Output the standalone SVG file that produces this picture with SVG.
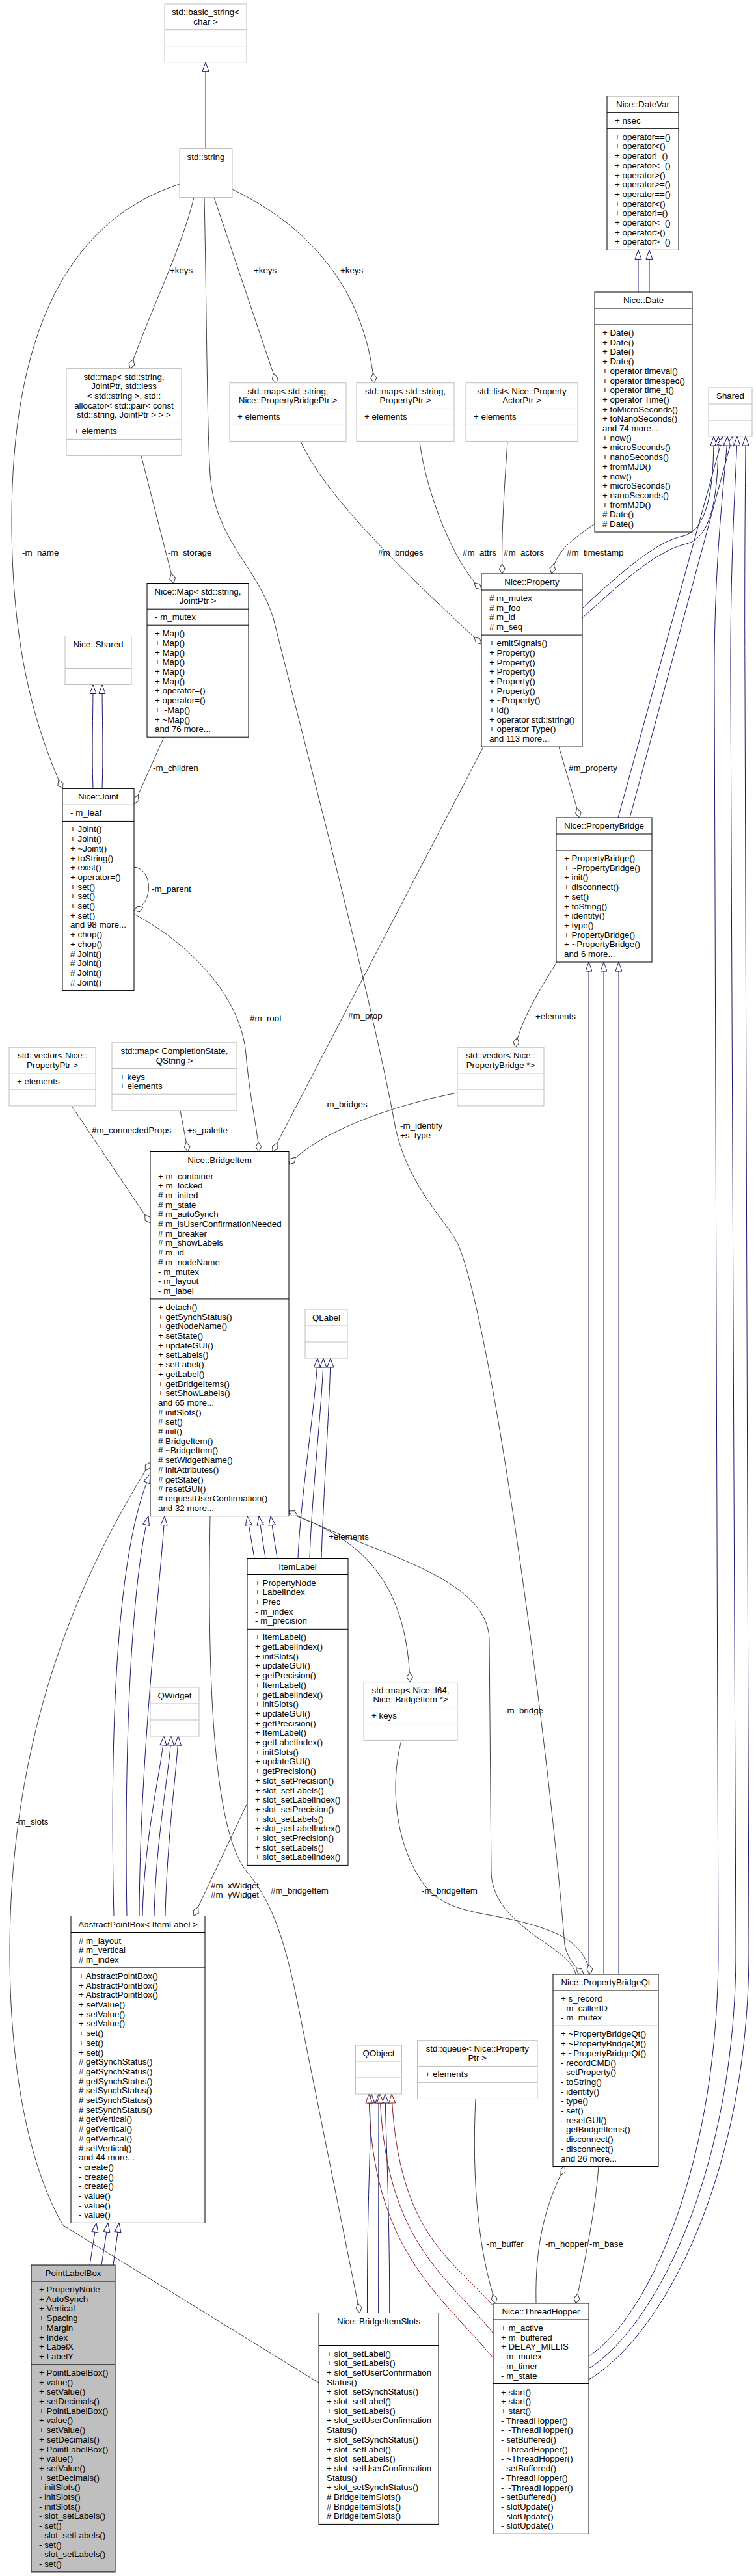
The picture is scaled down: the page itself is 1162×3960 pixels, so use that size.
<svg xmlns="http://www.w3.org/2000/svg" width="1162" height="3960" viewBox="0 0 1162 3960">
<style>
text{font-family:"Liberation Sans",Arial,Helvetica,sans-serif;font-size:13.33px;fill:#000}
.c{text-anchor:middle}
.bd{fill:#fff;stroke:#000;stroke-width:1}
.bu{fill:#fff;stroke:#bfbfbf;stroke-width:1}
.bg{fill:#bfbfbf;stroke:#000;stroke-width:1}
.ld{stroke:#000;stroke-width:1}
.lu{stroke:#bfbfbf;stroke-width:1}
.e{fill:none;stroke-width:1}
.inh{stroke:#191970;marker-end:url(#ib)}
.prv{stroke:#8b1a1a;marker-end:url(#ir)}
.use{stroke:#404040;marker-end:url(#dm)}
</style>
<defs>
<marker id="ib" markerWidth="16" markerHeight="12" refX="15" refY="6" orient="auto" markerUnits="userSpaceOnUse"><path d="M1,1 L15,6 L1,11 Z" fill="#fff" stroke="#191970"/></marker>
<marker id="ir" markerWidth="16" markerHeight="12" refX="15" refY="6" orient="auto" markerUnits="userSpaceOnUse"><path d="M1,1 L15,6 L1,11 Z" fill="#fff" stroke="#8b1a1a"/></marker>
<marker id="dm" markerWidth="17" markerHeight="12" refX="16" refY="6" orient="auto" markerUnits="userSpaceOnUse"><path d="M1,6 L8.5,1.5 L16,6 L8.5,10.5 Z" fill="#fff" stroke="#404040"/></marker>
</defs>
<rect width="1162" height="3960" fill="#fff"/>

<g id="edges">
<path class="e inh" d="M316,228.5 L316,95.7"/>
<path class="e inh" d="M981,449 L981,384.4"/>
<path class="e inh" d="M998,449 L998,384.4"/>
<path class="e inh" d="M143,1212.4 C141,1150 143,1100 143,1052.5"/>
<path class="e inh" d="M157,1212.4 C159,1150 157,1100 157,1052.5"/>
<path class="e inh" d="M895,935 C960,875 1010,832 1050,824 C1085,815 1097,760 1097,671"/>
<path class="e inh" d="M895,950 C965,885 1015,845 1055,836 C1095,826 1104,760 1104,671"/>
<path class="e inh" d="M950,1257 L1111,671"/>
<path class="e inh" d="M968,1257 L1126,671"/>
<path class="e inh" d="M905,3622 C1000,3560 1104,3320 1104,3000 L1098,1050 C1097,850 1116,720 1118,671"/>
<path class="e inh" d="M905,3641 C1010,3575 1131,3330 1131,3000 L1123,1050 C1122,850 1132,720 1133,671"/>
<path class="e inh" d="M905,3658 C1020,3590 1151,3340 1151,3000 L1145,1050 C1144,850 1146,720 1146,671"/>
<path class="e inh" d="M905,3035 L905,1479"/>
<path class="e inh" d="M928,3035 L928,1479"/>
<path class="e inh" d="M951,3035 L951,1479"/>
<path class="e inh" d="M391,2395.5 L380,2330.6"/>
<path class="e inh" d="M408,2395.5 L398,2330.6"/>
<path class="e inh" d="M426,2395.5 L416,2330.6"/>
<path class="e inh" d="M458,2395.5 C462,2300 486,2150 488,2088"/>
<path class="e inh" d="M476,2395.5 C479,2300 496,2150 497,2088"/>
<path class="e inh" d="M494,2395.5 C497,2300 507,2150 508,2088"/>
<path class="e inh" d="M175,2945.5 C168,2650 180,2380 231,2266"/>
<path class="e inh" d="M195,2945.5 C190,2650 205,2420 228,2330.6"/>
<path class="e inh" d="M214,2945.5 C215,2700 245,2450 253,2330.6"/>
<path class="e inh" d="M219,2945.5 C222,2820 248,2720 252,2669"/>
<path class="e inh" d="M237,2945.5 C240,2820 261,2720 263,2669"/>
<path class="e inh" d="M254,2945.5 C257,2820 272,2720 274,2669"/>
<path class="e inh" d="M138,3482 L148,3417.4"/>
<path class="e inh" d="M156,3482 L166,3417.4"/>
<path class="e inh" d="M174,3482 L183,3417.4"/>
<path class="e inh" d="M564.5,3555.5 C564,3400 570,3280 571,3219"/>
<path class="e inh" d="M581.6,3555.5 L582,3219"/>
<path class="e inh" d="M598.7,3555.5 C599,3400 593,3280 592,3219"/>
<path class="e prv" d="M758,3545 C700,3475 612,3440 602,3219"/>
<path class="e prv" d="M758,3587 C690,3500 592,3450 584,3219"/>
<path class="e prv" d="M758,3625 C680,3530 570,3460 567,3219"/>
<path class="e use" d="M298,303.5 C280,380 230,480 200,566.6"/>
<path class="e use" d="M276,283 C100,340 18,520 18,800 C18,1000 55,1120 96,1212.4"/>
<path class="e use" d="M314,303.5 C318,500 318,650 323,730 C330,830 395,870 420,950 C470,1150 575,1550 608,1735 C630,1830 690,1880 705,1915 C760,2050 845,2700 868,2990 C872,3010 885,3025 897,3035"/>
<path class="e use" d="M329,303.5 L425,588.7"/>
<path class="e use" d="M357,291 C470,345 560,440 575,588.7"/>
<path class="e use" d="M462,678.4 C500,760 600,860 740,990"/>
<path class="e use" d="M645,678.4 C655,760 700,870 740,906"/>
<path class="e use" d="M780,678.4 C776,740 770,820 772,882"/>
<path class="e use" d="M914,805 C880,830 855,845 848,882"/>
<path class="e use" d="M217,700.4 L267,896.5"/>
<path class="e use" d="M252,1133.2 L206,1236"/>
<path class="e use" d="M206,1333 C234,1335 238,1388 206,1400"/>
<path class="e use" d="M859,1148 L891,1257"/>
<path class="e use" d="M856,1479 C830,1520 800,1570 792,1610"/>
<path class="e use" d="M110,1699.9 L231,1880"/>
<path class="e use" d="M277,1707.2 L289,1770.5"/>
<path class="e use" d="M206,1405 C290,1450 370,1530 378,1620 C384,1690 395,1730 398,1770.5"/>
<path class="e use" d="M743,1148 L419,1770.5"/>
<path class="e use" d="M703,1680 C600,1700 490,1740 444,1790"/>
<path class="e use" d="M444,2326 C520,2355 625,2400 630,2585.7"/>
<path class="e use" d="M885,3035 C875,2990 760,2965 755,2880 L752,2520 C750,2420 560,2385 444,2323"/>
<path class="e use" d="M617,2675.4 C600,2740 605,2830 650,2895 C690,2950 760,2935 845,2968 C880,2982 900,3000 908,3035"/>
<path class="e use" d="M323,2330.6 C318,2600 330,2820 380,2878 C420,2925 440,2990 460,3092 L553,3555.5"/>
<path class="e use" d="M490,3663 L97,3421 C50,3340 15,3200 15,3000 C15,2600 170,2350 231,2248"/>
<path class="e use" d="M380,2772 L298,2945.5"/>
<path class="e use" d="M731,3226.4 C725,3350 735,3460 762,3541"/>
<path class="e use" d="M824,3541 C822,3450 838,3390 868,3330.5"/>
<path class="e use" d="M920,3330.5 C915,3400 900,3470 885,3541"/>
<text x="261" y="419.5">+keys</text>
<text x="390" y="419.5">+keys</text>
<text x="523" y="419.5">+keys</text>
<text x="34" y="853.5">-m_name</text>
<text x="258" y="853.5">-m_storage</text>
<text x="581" y="853.5">#m_bridges</text>
<text x="711" y="853.5">#m_attrs</text>
<text x="774" y="853.5">#m_actors</text>
<text x="871" y="853.5">#m_timestamp</text>
<text x="235" y="1184.5">-m_children</text>
<text x="874" y="1184.5">#m_property</text>
<text x="233" y="1370.5">-m_parent</text>
<text x="823" y="1566.5">+elements</text>
<text x="384" y="1570">#m_root</text>
<text x="535" y="1566">#m_prop</text>
<text x="615" y="1735">-m_identify</text>
<text x="615" y="1750">+s_type</text>
<text x="498" y="1702">-m_bridges</text>
<text x="141" y="1741.5">#m_connectedProps</text>
<text x="288" y="1741.5">+s_palette</text>
<text x="505" y="2367">+elements</text>
<text x="775" y="2634">-m_bridge</text>
<text x="24" y="2805">-m_slots</text>
<text x="324" y="2902.5">#m_xWidget</text>
<text x="324" y="2917">#m_yWidget</text>
<text x="416" y="2910.5">#m_bridgeItem</text>
<text x="648" y="2910.5">-m_bridgeItem</text>
<text x="748" y="3453.5">-m_buffer</text>
<text x="838" y="3453.5">-m_hopper</text>
<text x="906" y="3453.5">-m_base</text>
</g>

<g id="n-basic-string">
<rect class="bu" x="253" y="6" width="126" height="89.7"/>
<line class="lu" x1="253" y1="45.7" x2="379" y2="45.7"/><line class="lu" x1="253" y1="70.7" x2="379" y2="70.7"/>
<text class="c" x="316" y="23">std::basic_string&lt;<tspan x="316" dy="14.7">char &gt;</tspan></text>
</g>
<g id="n-std-string">
<rect class="bu" x="276" y="228.5" width="81" height="75"/>
<line class="lu" x1="276" y1="253.5" x2="357" y2="253.5"/><line class="lu" x1="276" y1="278.5" x2="357" y2="278.5"/>
<text class="c" x="316.5" y="245.5">std::string</text>
</g>
<g id="n-datevar">
<rect class="bd" x="933" y="147.7" width="110" height="236.7"/>
<line class="ld" x1="933" y1="172.7" x2="1043" y2="172.7"/><line class="ld" x1="933" y1="197.7" x2="1043" y2="197.7"/>
<text class="c" x="988" y="164.7">Nice::DateVar</text>
<text x="945" y="189.7">+ nsec</text>
<text x="945" y="214.7">+ operator==()<tspan x="945" dy="14.7">+ operator&lt;()</tspan><tspan x="945" dy="14.7">+ operator!=()</tspan><tspan x="945" dy="14.7">+ operator&lt;=()</tspan><tspan x="945" dy="14.7">+ operator&gt;()</tspan><tspan x="945" dy="14.7">+ operator&gt;=()</tspan><tspan x="945" dy="14.7">+ operator==()</tspan><tspan x="945" dy="14.7">+ operator&lt;()</tspan><tspan x="945" dy="14.7">+ operator!=()</tspan><tspan x="945" dy="14.7">+ operator&lt;=()</tspan><tspan x="945" dy="14.7">+ operator&gt;()</tspan><tspan x="945" dy="14.7">+ operator&gt;=()</tspan></text>
</g>
<g id="n-date">
<rect class="bd" x="914" y="449" width="150" height="369"/>
<line class="ld" x1="914" y1="474" x2="1064" y2="474"/><line class="ld" x1="914" y1="499" x2="1064" y2="499"/>
<text class="c" x="989" y="466">Nice::Date</text>
<text x="926" y="516">+ Date()<tspan x="926" dy="14.7">+ Date()</tspan><tspan x="926" dy="14.7">+ Date()</tspan><tspan x="926" dy="14.7">+ Date()</tspan><tspan x="926" dy="14.7">+ operator timeval()</tspan><tspan x="926" dy="14.7">+ operator timespec()</tspan><tspan x="926" dy="14.7">+ operator time_t()</tspan><tspan x="926" dy="14.7">+ operator Time()</tspan><tspan x="926" dy="14.7">+ toMicroSeconds()</tspan><tspan x="926" dy="14.7">+ toNanoSeconds()</tspan><tspan x="926" dy="14.7">and 74 more...</tspan><tspan x="926" dy="14.7">+ now()</tspan><tspan x="926" dy="14.7">+ microSeconds()</tspan><tspan x="926" dy="14.7">+ nanoSeconds()</tspan><tspan x="926" dy="14.7">+ fromMJD()</tspan><tspan x="926" dy="14.7">+ now()</tspan><tspan x="926" dy="14.7">+ microSeconds()</tspan><tspan x="926" dy="14.7">+ nanoSeconds()</tspan><tspan x="926" dy="14.7">+ fromMJD()</tspan><tspan x="926" dy="14.7"># Date()</tspan><tspan x="926" dy="14.7"># Date()</tspan></text>
</g>
<g id="n-shared">
<rect class="bu" x="1089" y="596" width="67" height="75"/>
<line class="lu" x1="1089" y1="621" x2="1156" y2="621"/><line class="lu" x1="1089" y1="646" x2="1156" y2="646"/>
<text class="c" x="1122.5" y="613">Shared</text>
</g>
<g id="n-map-joint">
<rect class="bu" x="102" y="566.6" width="177" height="133.8"/>
<line class="lu" x1="102" y1="650.4" x2="279" y2="650.4"/><line class="lu" x1="102" y1="675.4" x2="279" y2="675.4"/>
<text class="c" x="190.5" y="583.6">std::map&lt; std::string,<tspan x="190.5" dy="14.7">JointPtr, std::less</tspan><tspan x="190.5" dy="14.7">&lt; std::string &gt;, std::</tspan><tspan x="190.5" dy="14.7">allocator&lt; std::pair&lt; const</tspan><tspan x="190.5" dy="14.7">std::string, JointPtr &gt; &gt; &gt;</tspan></text>
<text x="114" y="667.4">+ elements</text>
</g>
<g id="n-map-pbptr">
<rect class="bu" x="353" y="588.7" width="179" height="89.7"/>
<line class="lu" x1="353" y1="628.4" x2="532" y2="628.4"/><line class="lu" x1="353" y1="653.4" x2="532" y2="653.4"/>
<text class="c" x="442.5" y="605.7">std::map&lt; std::string,<tspan x="442.5" dy="14.7">Nice::PropertyBridgePtr &gt;</tspan></text>
<text x="365" y="645.4">+ elements</text>
</g>
<g id="n-map-propptr">
<rect class="bu" x="548" y="588.7" width="150" height="89.7"/>
<line class="lu" x1="548" y1="628.4" x2="698" y2="628.4"/><line class="lu" x1="548" y1="653.4" x2="698" y2="653.4"/>
<text class="c" x="623" y="605.7">std::map&lt; std::string,<tspan x="623" dy="14.7">PropertyPtr &gt;</tspan></text>
<text x="560" y="645.4">+ elements</text>
</g>
<g id="n-list-actor">
<rect class="bu" x="716" y="588.7" width="172" height="89.7"/>
<line class="lu" x1="716" y1="628.4" x2="888" y2="628.4"/><line class="lu" x1="716" y1="653.4" x2="888" y2="653.4"/>
<text class="c" x="802" y="605.7">std::list&lt; Nice::Property<tspan x="802" dy="14.7">ActorPtr &gt;</tspan></text>
<text x="728" y="645.4">+ elements</text>
</g>
<g id="n-nice-map">
<rect class="bd" x="226" y="896.5" width="156" height="236.7"/>
<line class="ld" x1="226" y1="936.2" x2="382" y2="936.2"/><line class="ld" x1="226" y1="961.2" x2="382" y2="961.2"/>
<text class="c" x="304" y="913.5">Nice::Map&lt; std::string,<tspan x="304" dy="14.7">JointPtr &gt;</tspan></text>
<text x="238" y="953.2">- m_mutex</text>
<text x="238" y="978.2">+ Map()<tspan x="238" dy="14.7">+ Map()</tspan><tspan x="238" dy="14.7">+ Map()</tspan><tspan x="238" dy="14.7">+ Map()</tspan><tspan x="238" dy="14.7">+ Map()</tspan><tspan x="238" dy="14.7">+ Map()</tspan><tspan x="238" dy="14.7">+ operator=()</tspan><tspan x="238" dy="14.7">+ operator=()</tspan><tspan x="238" dy="14.7">+ ~Map()</tspan><tspan x="238" dy="14.7">+ ~Map()</tspan><tspan x="238" dy="14.7">and 76 more...</tspan></text>
</g>
<g id="n-nice-shared">
<rect class="bu" x="100" y="977.5" width="102" height="75"/>
<line class="lu" x1="100" y1="1002.5" x2="202" y2="1002.5"/><line class="lu" x1="100" y1="1027.5" x2="202" y2="1027.5"/>
<text class="c" x="151" y="994.5">Nice::Shared</text>
</g>
<g id="n-property">
<rect class="bd" x="740" y="882" width="155" height="266.1"/>
<line class="ld" x1="740" y1="907" x2="895" y2="907"/><line class="ld" x1="740" y1="976.1" x2="895" y2="976.1"/>
<text class="c" x="817.5" y="899">Nice::Property</text>
<text x="752" y="924"># m_mutex<tspan x="752" dy="14.7"># m_foo</tspan><tspan x="752" dy="14.7"># m_id</tspan><tspan x="752" dy="14.7"># m_seq</tspan></text>
<text x="752" y="993.1">+ emitSignals()<tspan x="752" dy="14.7">+ Property()</tspan><tspan x="752" dy="14.7">+ Property()</tspan><tspan x="752" dy="14.7">+ Property()</tspan><tspan x="752" dy="14.7">+ Property()</tspan><tspan x="752" dy="14.7">+ Property()</tspan><tspan x="752" dy="14.7">+ ~Property()</tspan><tspan x="752" dy="14.7">+ id()</tspan><tspan x="752" dy="14.7">+ operator std::string()</tspan><tspan x="752" dy="14.7">+ operator Type()</tspan><tspan x="752" dy="14.7">and 113 more...</tspan></text>
</g>
<g id="n-joint">
<rect class="bd" x="96" y="1212.4" width="110" height="310.2"/>
<line class="ld" x1="96" y1="1237.4" x2="206" y2="1237.4"/><line class="ld" x1="96" y1="1262.4" x2="206" y2="1262.4"/>
<text class="c" x="151" y="1229.4">Nice::Joint</text>
<text x="108" y="1254.4">- m_leaf</text>
<text x="108" y="1279.4">+ Joint()<tspan x="108" dy="14.7">+ Joint()</tspan><tspan x="108" dy="14.7">+ ~Joint()</tspan><tspan x="108" dy="14.7">+ toString()</tspan><tspan x="108" dy="14.7">+ exist()</tspan><tspan x="108" dy="14.7">+ operator=()</tspan><tspan x="108" dy="14.7">+ set()</tspan><tspan x="108" dy="14.7">+ set()</tspan><tspan x="108" dy="14.7">+ set()</tspan><tspan x="108" dy="14.7">+ set()</tspan><tspan x="108" dy="14.7">and 98 more...</tspan><tspan x="108" dy="14.7">+ chop()</tspan><tspan x="108" dy="14.7">+ chop()</tspan><tspan x="108" dy="14.7"># Joint()</tspan><tspan x="108" dy="14.7"># Joint()</tspan><tspan x="108" dy="14.7"># Joint()</tspan><tspan x="108" dy="14.7"># Joint()</tspan></text>
</g>
<g id="n-propertybridge">
<rect class="bd" x="855" y="1257" width="147" height="222"/>
<line class="ld" x1="855" y1="1282" x2="1002" y2="1282"/><line class="ld" x1="855" y1="1307" x2="1002" y2="1307"/>
<text class="c" x="928.5" y="1274">Nice::PropertyBridge</text>
<text x="867" y="1324">+ PropertyBridge()<tspan x="867" dy="14.7">+ ~PropertyBridge()</tspan><tspan x="867" dy="14.7">+ init()</tspan><tspan x="867" dy="14.7">+ disconnect()</tspan><tspan x="867" dy="14.7">+ set()</tspan><tspan x="867" dy="14.7">+ toString()</tspan><tspan x="867" dy="14.7">+ identity()</tspan><tspan x="867" dy="14.7">+ type()</tspan><tspan x="867" dy="14.7">+ PropertyBridge()</tspan><tspan x="867" dy="14.7">+ ~PropertyBridge()</tspan><tspan x="867" dy="14.7">and 6 more...</tspan></text>
</g>
<g id="n-vector-propptr">
<rect class="bu" x="14" y="1610.2" width="133" height="89.7"/>
<line class="lu" x1="14" y1="1649.9" x2="147" y2="1649.9"/><line class="lu" x1="14" y1="1674.9" x2="147" y2="1674.9"/>
<text class="c" x="80.5" y="1627.2">std::vector&lt; Nice::<tspan x="80.5" dy="14.7">PropertyPtr &gt;</tspan></text>
<text x="26" y="1666.9">+ elements</text>
</g>
<g id="n-map-completion">
<rect class="bu" x="172" y="1602.8" width="192" height="104.4"/>
<line class="lu" x1="172" y1="1642.5" x2="364" y2="1642.5"/><line class="lu" x1="172" y1="1682.2" x2="364" y2="1682.2"/>
<text class="c" x="268" y="1619.8">std::map&lt; CompletionState,<tspan x="268" dy="14.7">QString &gt;</tspan></text>
<text x="184" y="1659.5">+ keys<tspan x="184" dy="14.7">+ elements</tspan></text>
</g>
<g id="n-vector-pb">
<rect class="bu" x="703" y="1610.2" width="133" height="89.7"/>
<line class="lu" x1="703" y1="1649.9" x2="836" y2="1649.9"/><line class="lu" x1="703" y1="1674.9" x2="836" y2="1674.9"/>
<text class="c" x="769.5" y="1627.2">std::vector&lt; Nice::<tspan x="769.5" dy="14.7">PropertyBridge *&gt;</tspan></text>
</g>
<g id="n-bridgeitem">
<rect class="bd" x="231" y="1770.5" width="213" height="560.1"/>
<line class="ld" x1="231" y1="1795.5" x2="444" y2="1795.5"/><line class="ld" x1="231" y1="1996.9" x2="444" y2="1996.9"/>
<text class="c" x="337.5" y="1787.5">Nice::BridgeItem</text>
<text x="243" y="1812.5">+ m_container<tspan x="243" dy="14.7">+ m_locked</tspan><tspan x="243" dy="14.7"># m_inited</tspan><tspan x="243" dy="14.7"># m_state</tspan><tspan x="243" dy="14.7"># m_autoSynch</tspan><tspan x="243" dy="14.7"># m_isUserConfirmationNeeded</tspan><tspan x="243" dy="14.7"># m_breaker</tspan><tspan x="243" dy="14.7"># m_showLabels</tspan><tspan x="243" dy="14.7"># m_id</tspan><tspan x="243" dy="14.7"># m_nodeName</tspan><tspan x="243" dy="14.7">- m_mutex</tspan><tspan x="243" dy="14.7">- m_layout</tspan><tspan x="243" dy="14.7">- m_label</tspan></text>
<text x="243" y="2013.9">+ detach()<tspan x="243" dy="14.7">+ getSynchStatus()</tspan><tspan x="243" dy="14.7">+ getNodeName()</tspan><tspan x="243" dy="14.7">+ setState()</tspan><tspan x="243" dy="14.7">+ updateGUI()</tspan><tspan x="243" dy="14.7">+ setLabels()</tspan><tspan x="243" dy="14.7">+ setLabel()</tspan><tspan x="243" dy="14.7">+ getLabel()</tspan><tspan x="243" dy="14.7">+ getBridgeItems()</tspan><tspan x="243" dy="14.7">+ setShowLabels()</tspan><tspan x="243" dy="14.7">and 65 more...</tspan><tspan x="243" dy="14.7"># initSlots()</tspan><tspan x="243" dy="14.7"># set()</tspan><tspan x="243" dy="14.7"># init()</tspan><tspan x="243" dy="14.7"># BridgeItem()</tspan><tspan x="243" dy="14.7"># ~BridgeItem()</tspan><tspan x="243" dy="14.7"># setWidgetName()</tspan><tspan x="243" dy="14.7"># initAttributes()</tspan><tspan x="243" dy="14.7"># getState()</tspan><tspan x="243" dy="14.7"># resetGUI()</tspan><tspan x="243" dy="14.7"># requestUserConfirmation()</tspan><tspan x="243" dy="14.7">and 32 more...</tspan></text>
</g>
<g id="n-qlabel">
<rect class="bu" x="469" y="2013" width="65" height="75"/>
<line class="lu" x1="469" y1="2038" x2="534" y2="2038"/><line class="lu" x1="469" y1="2063" x2="534" y2="2063"/>
<text class="c" x="501.5" y="2030">QLabel</text>
</g>
<g id="n-itemlabel">
<rect class="bd" x="380" y="2395.5" width="155" height="471.9"/>
<line class="ld" x1="380" y1="2420.5" x2="535" y2="2420.5"/><line class="ld" x1="380" y1="2504.3" x2="535" y2="2504.3"/>
<text class="c" x="457.5" y="2412.5">ItemLabel</text>
<text x="392" y="2437.5">+ PropertyNode<tspan x="392" dy="14.7">+ LabelIndex</tspan><tspan x="392" dy="14.7">+ Prec</tspan><tspan x="392" dy="14.7">- m_index</tspan><tspan x="392" dy="14.7">- m_precision</tspan></text>
<text x="392" y="2521.3">+ ItemLabel()<tspan x="392" dy="14.7">+ getLabelIndex()</tspan><tspan x="392" dy="14.7">+ initSlots()</tspan><tspan x="392" dy="14.7">+ updateGUI()</tspan><tspan x="392" dy="14.7">+ getPrecision()</tspan><tspan x="392" dy="14.7">+ ItemLabel()</tspan><tspan x="392" dy="14.7">+ getLabelIndex()</tspan><tspan x="392" dy="14.7">+ initSlots()</tspan><tspan x="392" dy="14.7">+ updateGUI()</tspan><tspan x="392" dy="14.7">+ getPrecision()</tspan><tspan x="392" dy="14.7">+ ItemLabel()</tspan><tspan x="392" dy="14.7">+ getLabelIndex()</tspan><tspan x="392" dy="14.7">+ initSlots()</tspan><tspan x="392" dy="14.7">+ updateGUI()</tspan><tspan x="392" dy="14.7">+ getPrecision()</tspan><tspan x="392" dy="14.7">+ slot_setPrecision()</tspan><tspan x="392" dy="14.7">+ slot_setLabels()</tspan><tspan x="392" dy="14.7">+ slot_setLabelIndex()</tspan><tspan x="392" dy="14.7">+ slot_setPrecision()</tspan><tspan x="392" dy="14.7">+ slot_setLabels()</tspan><tspan x="392" dy="14.7">+ slot_setLabelIndex()</tspan><tspan x="392" dy="14.7">+ slot_setPrecision()</tspan><tspan x="392" dy="14.7">+ slot_setLabels()</tspan><tspan x="392" dy="14.7">+ slot_setLabelIndex()</tspan></text>
</g>
<g id="n-qwidget">
<rect class="bu" x="231" y="2594" width="75" height="75"/>
<line class="lu" x1="231" y1="2619" x2="306" y2="2619"/><line class="lu" x1="231" y1="2644" x2="306" y2="2644"/>
<text class="c" x="268.5" y="2611">QWidget</text>
</g>
<g id="n-map-i64">
<rect class="bu" x="559" y="2585.7" width="144" height="89.7"/>
<line class="lu" x1="559" y1="2625.4" x2="703" y2="2625.4"/><line class="lu" x1="559" y1="2650.4" x2="703" y2="2650.4"/>
<text class="c" x="631" y="2602.7">std::map&lt; Nice::I64,<tspan x="631" dy="14.7">Nice::BridgeItem *&gt;</tspan></text>
<text x="571" y="2642.4">+ keys</text>
</g>
<g id="n-abstractpointbox">
<rect class="bd" x="109" y="2945.5" width="206" height="471.9"/>
<line class="ld" x1="109" y1="2970.5" x2="315" y2="2970.5"/><line class="ld" x1="109" y1="3024.9" x2="315" y2="3024.9"/>
<text class="c" x="212" y="2962.5">AbstractPointBox&lt; ItemLabel &gt;</text>
<text x="121" y="2987.5"># m_layout<tspan x="121" dy="14.7"># m_vertical</tspan><tspan x="121" dy="14.7"># m_index</tspan></text>
<text x="121" y="3041.9">+ AbstractPointBox()<tspan x="121" dy="14.7">+ AbstractPointBox()</tspan><tspan x="121" dy="14.7">+ AbstractPointBox()</tspan><tspan x="121" dy="14.7">+ setValue()</tspan><tspan x="121" dy="14.7">+ setValue()</tspan><tspan x="121" dy="14.7">+ setValue()</tspan><tspan x="121" dy="14.7">+ set()</tspan><tspan x="121" dy="14.7">+ set()</tspan><tspan x="121" dy="14.7">+ set()</tspan><tspan x="121" dy="14.7"># getSynchStatus()</tspan><tspan x="121" dy="14.7"># getSynchStatus()</tspan><tspan x="121" dy="14.7"># getSynchStatus()</tspan><tspan x="121" dy="14.7"># setSynchStatus()</tspan><tspan x="121" dy="14.7"># setSynchStatus()</tspan><tspan x="121" dy="14.7"># setSynchStatus()</tspan><tspan x="121" dy="14.7"># getVertical()</tspan><tspan x="121" dy="14.7"># getVertical()</tspan><tspan x="121" dy="14.7"># getVertical()</tspan><tspan x="121" dy="14.7"># setVertical()</tspan><tspan x="121" dy="14.7">and 44 more...</tspan><tspan x="121" dy="14.7">- create()</tspan><tspan x="121" dy="14.7">- create()</tspan><tspan x="121" dy="14.7">- create()</tspan><tspan x="121" dy="14.7">- value()</tspan><tspan x="121" dy="14.7">- value()</tspan><tspan x="121" dy="14.7">- value()</tspan></text>
</g>
<g id="n-propertybridgeqt">
<rect class="bd" x="850" y="3035" width="162" height="295.5"/>
<line class="ld" x1="850" y1="3060" x2="1012" y2="3060"/><line class="ld" x1="850" y1="3114.4" x2="1012" y2="3114.4"/>
<text class="c" x="931" y="3052">Nice::PropertyBridgeQt</text>
<text x="862" y="3077">+ s_record<tspan x="862" dy="14.7">- m_callerID</tspan><tspan x="862" dy="14.7">- m_mutex</tspan></text>
<text x="862" y="3131.4">+ ~PropertyBridgeQt()<tspan x="862" dy="14.7">+ ~PropertyBridgeQt()</tspan><tspan x="862" dy="14.7">+ ~PropertyBridgeQt()</tspan><tspan x="862" dy="14.7">- recordCMD()</tspan><tspan x="862" dy="14.7">- setProperty()</tspan><tspan x="862" dy="14.7">- toString()</tspan><tspan x="862" dy="14.7">- identity()</tspan><tspan x="862" dy="14.7">- type()</tspan><tspan x="862" dy="14.7">- set()</tspan><tspan x="862" dy="14.7">- resetGUI()</tspan><tspan x="862" dy="14.7">- getBridgeItems()</tspan><tspan x="862" dy="14.7">- disconnect()</tspan><tspan x="862" dy="14.7">- disconnect()</tspan><tspan x="862" dy="14.7">and 26 more...</tspan></text>
</g>
<g id="n-qobject">
<rect class="bu" x="546.5" y="3144" width="71" height="75"/>
<line class="lu" x1="546.5" y1="3169" x2="617.5" y2="3169"/><line class="lu" x1="546.5" y1="3194" x2="617.5" y2="3194"/>
<text class="c" x="582" y="3161">QObject</text>
</g>
<g id="n-queue">
<rect class="bu" x="641.5" y="3136.7" width="184.5" height="89.7"/>
<line class="lu" x1="641.5" y1="3176.4" x2="826" y2="3176.4"/><line class="lu" x1="641.5" y1="3201.4" x2="826" y2="3201.4"/>
<text class="c" x="733.75" y="3153.7">std::queue&lt; Nice::Property<tspan x="733.75" dy="14.7">Ptr &gt;</tspan></text>
<text x="653.5" y="3193.4">+ elements</text>
</g>
<g id="n-pointlabelbox">
<rect class="bg" x="48" y="3482" width="129" height="471.9"/>
<line class="ld" x1="48" y1="3507" x2="177" y2="3507"/><line class="ld" x1="48" y1="3634.9" x2="177" y2="3634.9"/>
<text class="c" x="112.5" y="3499">PointLabelBox</text>
<text x="60" y="3524">+ PropertyNode<tspan x="60" dy="14.7">+ AutoSynch</tspan><tspan x="60" dy="14.7">+ Vertical</tspan><tspan x="60" dy="14.7">+ Spacing</tspan><tspan x="60" dy="14.7">+ Margin</tspan><tspan x="60" dy="14.7">+ Index</tspan><tspan x="60" dy="14.7">+ LabelX</tspan><tspan x="60" dy="14.7">+ LabelY</tspan></text>
<text x="60" y="3651.9">+ PointLabelBox()<tspan x="60" dy="14.7">+ value()</tspan><tspan x="60" dy="14.7">+ setValue()</tspan><tspan x="60" dy="14.7">+ setDecimals()</tspan><tspan x="60" dy="14.7">+ PointLabelBox()</tspan><tspan x="60" dy="14.7">+ value()</tspan><tspan x="60" dy="14.7">+ setValue()</tspan><tspan x="60" dy="14.7">+ setDecimals()</tspan><tspan x="60" dy="14.7">+ PointLabelBox()</tspan><tspan x="60" dy="14.7">+ value()</tspan><tspan x="60" dy="14.7">+ setValue()</tspan><tspan x="60" dy="14.7">+ setDecimals()</tspan><tspan x="60" dy="14.7">- initSlots()</tspan><tspan x="60" dy="14.7">- initSlots()</tspan><tspan x="60" dy="14.7">- initSlots()</tspan><tspan x="60" dy="14.7">- slot_setLabels()</tspan><tspan x="60" dy="14.7">- set()</tspan><tspan x="60" dy="14.7">- slot_setLabels()</tspan><tspan x="60" dy="14.7">- set()</tspan><tspan x="60" dy="14.7">- slot_setLabels()</tspan><tspan x="60" dy="14.7">- set()</tspan></text>
</g>
<g id="n-bridgeitemslots">
<rect class="bd" x="490" y="3555.5" width="184" height="324.9"/>
<line class="ld" x1="490" y1="3580.5" x2="674" y2="3580.5"/><line class="ld" x1="490" y1="3605.5" x2="674" y2="3605.5"/>
<text class="c" x="582" y="3572.5">Nice::BridgeItemSlots</text>
<text x="502" y="3622.5">+ slot_setLabel()<tspan x="502" dy="14.7">+ slot_setLabels()</tspan><tspan x="502" dy="14.7">+ slot_setUserConfirmation</tspan><tspan x="502" dy="14.7">Status()</tspan><tspan x="502" dy="14.7">+ slot_setSynchStatus()</tspan><tspan x="502" dy="14.7">+ slot_setLabel()</tspan><tspan x="502" dy="14.7">+ slot_setLabels()</tspan><tspan x="502" dy="14.7">+ slot_setUserConfirmation</tspan><tspan x="502" dy="14.7">Status()</tspan><tspan x="502" dy="14.7">+ slot_setSynchStatus()</tspan><tspan x="502" dy="14.7">+ slot_setLabel()</tspan><tspan x="502" dy="14.7">+ slot_setLabels()</tspan><tspan x="502" dy="14.7">+ slot_setUserConfirmation</tspan><tspan x="502" dy="14.7">Status()</tspan><tspan x="502" dy="14.7">+ slot_setSynchStatus()</tspan><tspan x="502" dy="14.7"># BridgeItemSlots()</tspan><tspan x="502" dy="14.7"># BridgeItemSlots()</tspan><tspan x="502" dy="14.7"># BridgeItemSlots()</tspan></text>
</g>
<g id="n-threadhopper">
<rect class="bd" x="758" y="3541" width="147" height="354.3"/>
<line class="ld" x1="758" y1="3566" x2="905" y2="3566"/><line class="ld" x1="758" y1="3664.5" x2="905" y2="3664.5"/>
<text class="c" x="831.5" y="3558">Nice::ThreadHopper</text>
<text x="770" y="3583">+ m_active<tspan x="770" dy="14.7">+ m_buffered</tspan><tspan x="770" dy="14.7">+ DELAY_MILLIS</tspan><tspan x="770" dy="14.7">- m_mutex</tspan><tspan x="770" dy="14.7">- m_timer</tspan><tspan x="770" dy="14.7">- m_state</tspan></text>
<text x="770" y="3681.5">+ start()<tspan x="770" dy="14.7">+ start()</tspan><tspan x="770" dy="14.7">+ start()</tspan><tspan x="770" dy="14.7">- ThreadHopper()</tspan><tspan x="770" dy="14.7">- ~ThreadHopper()</tspan><tspan x="770" dy="14.7">- setBuffered()</tspan><tspan x="770" dy="14.7">- ThreadHopper()</tspan><tspan x="770" dy="14.7">- ~ThreadHopper()</tspan><tspan x="770" dy="14.7">- setBuffered()</tspan><tspan x="770" dy="14.7">- ThreadHopper()</tspan><tspan x="770" dy="14.7">- ~ThreadHopper()</tspan><tspan x="770" dy="14.7">- setBuffered()</tspan><tspan x="770" dy="14.7">- slotUpdate()</tspan><tspan x="770" dy="14.7">- slotUpdate()</tspan><tspan x="770" dy="14.7">- slotUpdate()</tspan></text>
</g>
</svg>
